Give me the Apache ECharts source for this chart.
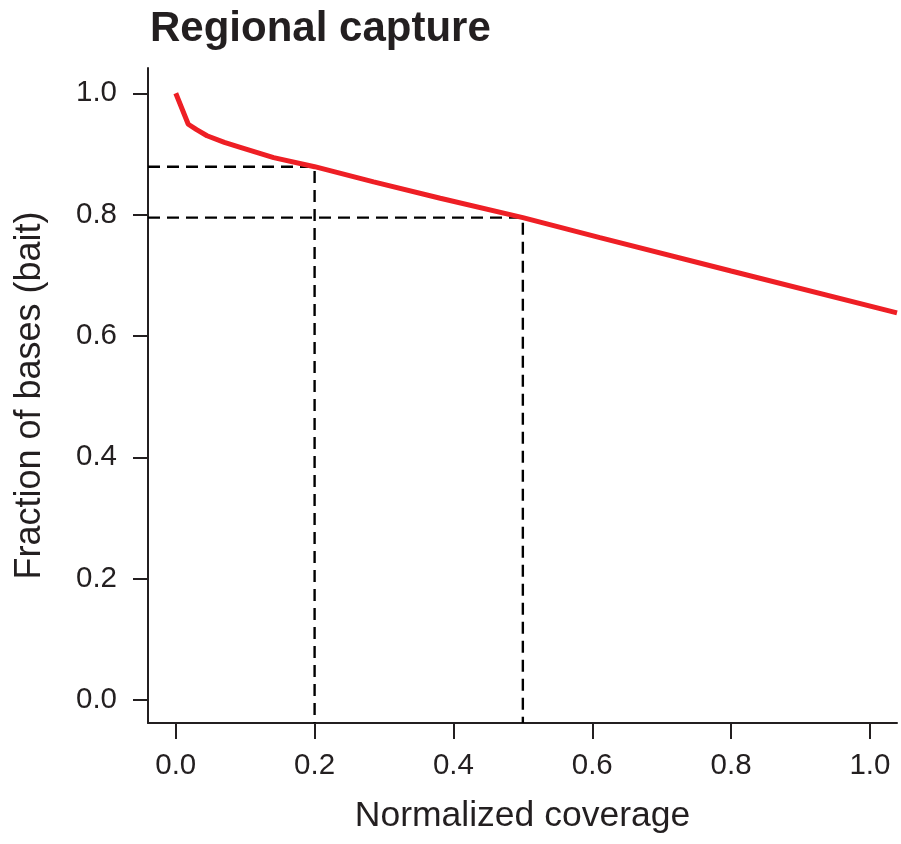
<!DOCTYPE html>
<html>
<head>
<meta charset="utf-8">
<script src="https://cdn.jsdelivr.net/npm/echarts@6/dist/echarts.min.js"></script>
<style>
html,body{margin:0;padding:0;background:#fff;}
#chart{width:901px;height:844px;}
</style>
</head>
<body>
<div id="chart"></div>
<script>
// Data
var coverage = [0, 0.018, 0.030, 0.045, 0.070, 0.093, 0.141, 0.2, 0.285, 0.381, 0.5, 0.611, 0.8, 1.039];
var fraction = [1.0, 0.949, 0.940, 0.930, 0.919, 0.911, 0.894, 0.879, 0.854, 0.827, 0.795, 0.762, 0.707, 0.638];
var guideX = [0.2, 0.5];
var guideY = [0.879, 0.795];
var tickValues = [0, 0.2, 0.4, 0.6, 0.8, 1.0];
var titleText = 'Regional capture';
var xName = 'Normalized coverage';
var yName = 'Fraction of bases (bait)';

var xMin = -0.04, xMax = 1.039;
var yMin = -0.038, yMax = 1.0417;

var FONT = "'Liberation Sans', Arial, Helvetica, sans-serif";
var INK = '#231f20';

var curve = coverage.map(function (x, i) { return [x, fraction[i]]; });

var guideSeries = guideX.map(function (gx, i) {
  return {
    type: 'line',
    data: [[xMin, guideY[i]], [gx, guideY[i]], [gx, yMin]],
    symbol: 'none',
    silent: true,
    z: 1,
    lineStyle: { color: '#000', width: 2.4, type: [12, 7] },
    animation: false
  };
});

var chart = echarts.init(document.getElementById('chart'), null, { renderer: 'canvas' });
chart.setOption({
  backgroundColor: '#fff',
  animation: false,
  title: {
    text: titleText,
    left: 145,
    top: 3,
    textStyle: { fontFamily: FONT, fontSize: 42, fontWeight: 'bold', color: INK }
  },
  grid: { left: 148, right: 4, top: 68, bottom: 121, containLabel: false },
  xAxis: {
    type: 'value',
    min: xMin,
    max: xMax,
    name: xName,
    nameLocation: 'middle',
    nameGap: 75,
    nameTextStyle: { fontFamily: FONT, fontSize: 35.5, color: INK },
    axisLine: { show: true, onZero: false, lineStyle: { color: INK, width: 2 } },
    axisTick: { show: true, length: 16, lineStyle: { color: INK, width: 2 }, customValues: tickValues },
    axisLabel: {
      fontFamily: FONT, fontSize: 29.5, color: INK, margin: 28,
      customValues: tickValues,
      formatter: function (v) { return v.toFixed(1); }
    },
    splitLine: { show: false }
  },
  yAxis: {
    type: 'value',
    min: yMin,
    max: yMax,
    name: yName,
    nameLocation: 'middle',
    nameGap: 100,
    nameRotate: 90,
    nameTextStyle: { fontFamily: FONT, fontSize: 36, color: INK },
    axisLine: { show: true, onZero: false, lineStyle: { color: INK, width: 2 } },
    axisTick: { show: true, length: 15, lineStyle: { color: INK, width: 2 }, customValues: tickValues },
    axisLabel: {
      fontFamily: FONT, fontSize: 29.5, color: INK, margin: 31,
      customValues: tickValues,
      formatter: function (v) { return v.toFixed(1); }
    },
    splitLine: { show: false }
  },
  series: guideSeries.concat([{
    type: 'line',
    data: curve,
    symbol: 'none',
    smooth: false,
    z: 5,
    lineStyle: { color: '#ee1f25', width: 5 },
    animation: false
  }])
});
</script>
</body>
</html>
